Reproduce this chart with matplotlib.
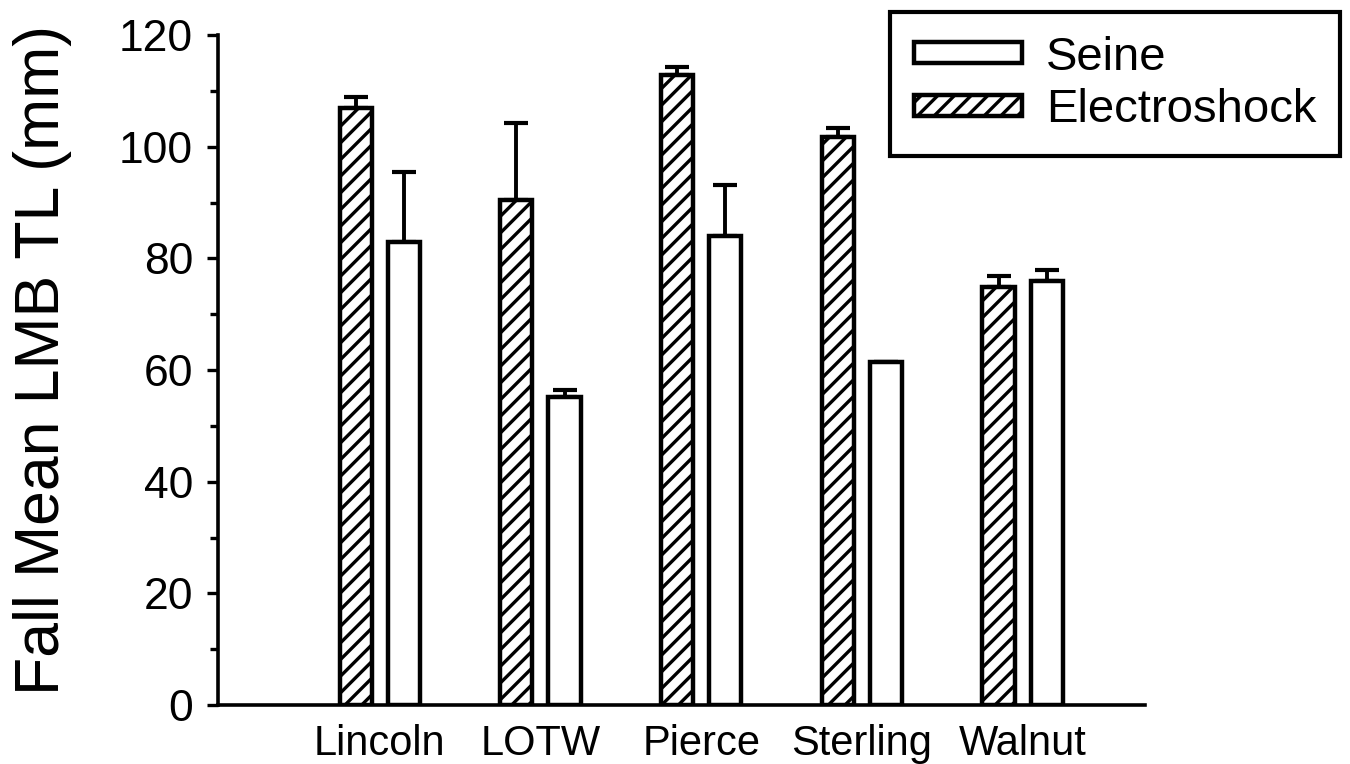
import numpy as np
import matplotlib
matplotlib.use("Agg")
import matplotlib.pyplot as plt
from matplotlib.ticker import MultipleLocator

plt.rcParams['font.family'] = ['Liberation Sans', 'DejaVu Sans']
plt.rcParams['hatch.linewidth'] = 2.4

# data
lakes = ["Lincoln", "LOTW", "Pierce", "Sterling", "Walnut"]
electro_mean = [107.0, 90.4, 112.8, 101.7, 74.9]
electro_err = [2.0, 13.8, 1.5, 1.6, 1.9]
seine_mean = [83.0, 55.2, 84.0, 61.4, 75.9]
seine_err = [12.4, 1.2, 9.2, 0.0, 2.0]

x = np.arange(len(lakes))
width = 0.2
offset = 0.15

fig = plt.figure(figsize=(13.5, 7.64), dpi=100)
ax = fig.add_axes([0.1615, 0.0772, 0.6865, 0.8768])

zeros = np.zeros(len(lakes))
# electroshock (hatched) on the left, seine (open) on the right
eb = ax.bar(x - offset, electro_mean, width, color="white", edgecolor="black",
            linewidth=3.2, hatch="//", label="Electroshock", zorder=3)
ax.errorbar(x - offset, electro_mean, yerr=[zeros, electro_err], fmt="none",
            ecolor="black", elinewidth=2.8, capsize=8.5, capthick=3.0, zorder=2)
sb = ax.bar(x + offset, seine_mean, width, color="white", edgecolor="black",
            linewidth=3.2, label="Seine", zorder=3)
ax.errorbar(x + offset, seine_mean, yerr=[zeros, seine_err], fmt="none",
            ecolor="black", elinewidth=2.8, capsize=8.5, capthick=3.0, zorder=2)

ax.set_xlim(-1.006, 4.76)
ax.set_ylim(0, 120)
ax.yaxis.set_major_locator(MultipleLocator(20))
ax.yaxis.set_minor_locator(MultipleLocator(10))
ax.set_xticks(x)
ax.set_xticklabels(lakes, fontsize=30)
ax.tick_params(axis="x", length=0, pad=14)
ax.tick_params(axis="y", which="major", direction="out", length=8, width=2.4,
               labelsize=32, pad=10)
ax.tick_params(axis="y", which="minor", direction="out", length=6, width=2.4)

for s in ["top", "right"]:
    ax.spines[s].set_visible(False)
for s in ["left", "bottom"]:
    ax.spines[s].set_linewidth(2.6)

ax.set_ylabel("Fall Mean LMB TL (mm)", fontsize=45)
ax.yaxis.set_label_coords(-0.158, 0.515)

leg = fig.legend([sb, eb], ["Seine", "Electroshock"], loc="upper right",
                 bbox_to_anchor=(1340 / 1350, 1 - 12 / 764), fontsize=34,
                 frameon=True, fancybox=False, edgecolor="black", framealpha=1,
                 handlelength=2.3, handleheight=0.3, handletextpad=0.5,
                 borderpad=0.5, labelspacing=0.18, borderaxespad=0)
leg.get_frame().set_linewidth(3.0)

fig.savefig("out.png", dpi=100)
